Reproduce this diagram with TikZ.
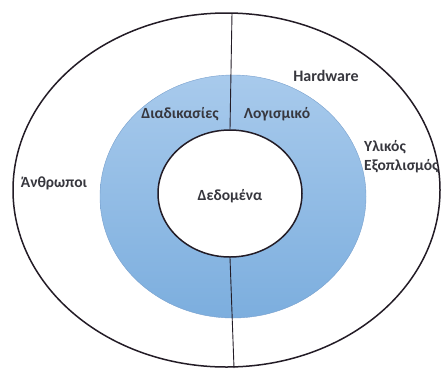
\documentclass[tikz,border=0pt]{standalone}
\usepackage{fontspec}
\setmainfont{Carlito}
\usetikzlibrary{shapes.geometric}
\definecolor{ringtop}{RGB}{168,202,236}
\definecolor{ringbot}{RGB}{124,174,222}
\definecolor{ringedge}{RGB}{120,160,205}
\definecolor{inkline}{RGB}{35,28,38}
\definecolor{labeltext}{RGB}{55,55,62}
\tikzset{
  px/.style={x=1pt,y=-1pt},
  label/.style={text=labeltext,font=\fontsize{15.5}{19}\selectfont\bfseries,inner sep=0pt},
  ring/.style={draw=inkline,line width=1.5pt},
  divider/.style={draw=inkline,line width=0.9pt}
}
\begin{document}
\begin{tikzpicture}[px]
  \useasboundingbox (0,0) rectangle (441,368);
  \begin{scope}
    \clip (0,0) rectangle (441,368);
    % blue ring of the middle layer
    \node[ellipse,minimum width=266pt,minimum height=243pt,inner sep=0pt,
          top color=ringtop,bottom color=ringbot,draw=ringedge,line width=0.4pt]
          (mid) at (233,196.5) {};
    % outer layer
    \node[ellipse,ring,minimum width=427pt,minimum height=354pt,inner sep=0pt]
          (outer) at (226.5,190) {};
    % inner data circle
    \node[ellipse,ring,fill=white,minimum width=144pt,minimum height=127pt,inner sep=0pt]
          (core) at (230,193.5) {};
    \coordinate (topend) at (232,13);
    \coordinate (botend) at (234,368);
    \draw[divider] (topend) -- (core.north);
    \draw[divider] (core.south) -- (botend);
    % labels
    \node[label] (data) at (230,196) {Δεδομένα};
    \node[label] (proc) at (180,114) {Διαδικασίες};
    \node[label] (soft) at (277,114) {Λογισμικό};
    \node[label,font=\fontsize{16}{19}\selectfont\bfseries] (hw) at (326,76) {Hardware};
    \node[label] (people) at (54,183) {Άνθρωποι};
    \node[label,anchor=west,align=left] (eq) at (364,157) {Υλικός\\Εξοπλισμός};
  \end{scope}
\end{tikzpicture}
\end{document}
